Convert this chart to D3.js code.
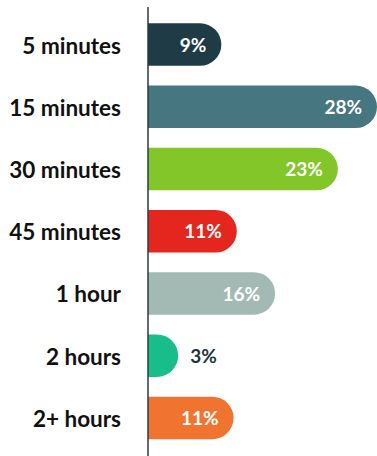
<!DOCTYPE html>
<html>
<head>
<meta charset="utf-8">
<script src="https://cdn.jsdelivr.net/npm/d3@7"></script>
<style>
  body { margin: 0; background: #fff; }
  svg { display: block; }
  .cat { font-family: Lato, sans-serif; font-weight: 700; font-size: 22.5px; fill: #111; }
  .val { font-family: Lato, sans-serif; font-weight: 700; font-size: 19px; }
</style>
</head>
<body>
<div id="chart"></div>
<script>
// Data
var categories = ["5 minutes", "15 minutes", "30 minutes", "45 minutes", "1 hour", "2 hours", "2+ hours"];
var shares = [9.0, 28.1, 23.3, 10.9, 15.6, 3.7, 10.5];
var labels = ["9%", "28%", "23%", "11%", "16%", "3%", "11%"];
var colors = ["#1f3b46", "#46767f", "#83c62a", "#e4261e", "#a3bab4", "#17be8a", "#f07430"];

var svgWidth = 377;
var svgHeight = 456;
var axisX = 148;

var svg = d3.select("#chart")
  .append("svg")
  .attr("width", svgWidth)
  .attr("height", svgHeight);

var rows = categories.map(function(c, i) {
  return { cat: c, value: shares[i], label: labels[i], color: colors[i] };
});

// Scales
var xScale = d3.scaleLinear()
  .domain([0, 28.1])
  .range([axisX, 377]);

var yScale = d3.scaleBand()
  .domain(categories)
  .range([13.5, 449])
  .paddingInner(0.317)
  .paddingOuter(0.158);

// bar with rounded right end only
function barPath(d) {
  var x0 = xScale(0);
  var x1 = xScale(d.value);
  var y0 = yScale(d.cat);
  var h = yScale.bandwidth();
  var r = Math.min(h / 2, x1 - x0);
  return "M" + x0 + "," + y0 +
    "H" + (x1 - r) +
    "A" + r + "," + r + " 0 0 1 " + x1 + "," + (y0 + r) +
    "V" + (y0 + h - r) +
    "A" + r + "," + r + " 0 0 1 " + (x1 - r) + "," + (y0 + h) +
    "H" + x0 + "Z";
}

svg.append("g").selectAll("path")
  .data(rows)
  .enter()
  .append("path")
  .attr("d", barPath)
  .attr("fill", d => d.color);

// value labels: inside when the bar is long enough, otherwise outside
svg.append("g").selectAll("text")
  .data(rows)
  .enter()
  .append("text")
  .attr("class", "val")
  .attr("x", d => d.value > 6 ? xScale(d.value) - 15 : xScale(d.value) + 12)
  .attr("y", d => yScale(d.cat) + yScale.bandwidth() / 2)
  .attr("dy", "0.38em")
  .attr("text-anchor", d => d.value > 6 ? "end" : "start")
  .attr("fill", d => d.value > 6 ? "#fff" : "#22343b")
  .text(d => d.label);

// category axis
var leftAxis = d3.axisLeft(yScale).tickSize(0).tickPadding(27);

var axisG = svg.append("g")
  .attr("transform", `translate(${axisX}, 0)`)
  .call(leftAxis);

axisG.select(".domain")
  .attr("d", "M0,7V456")
  .attr("stroke", "#2b3a40")
  .attr("stroke-width", 1.5);

axisG.selectAll(".tick text")
  .attr("class", "cat")
  .attr("fill", null)
  .attr("dy", "0.4em");
</script>
</body>
</html>
